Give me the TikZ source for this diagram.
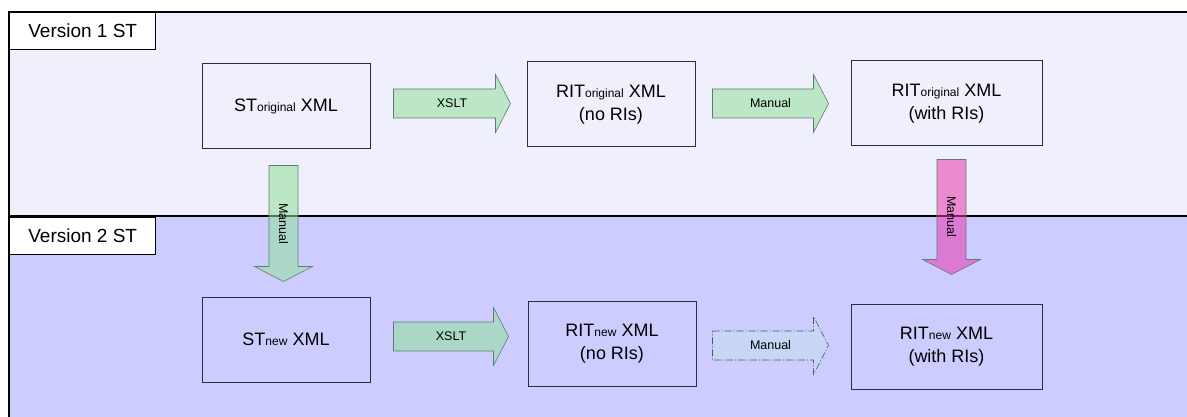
\documentclass[tikz,border=0pt]{standalone}
\usepackage{fontspec}
\setmainfont{Liberation Sans}
\usetikzlibrary{calc}

\definecolor{paneltop}{RGB}{240,240,252}
\definecolor{panelbot}{RGB}{204,204,255}
\definecolor{boxline}{RGB}{45,45,60}
\definecolor{flowgreen}{RGB}{145,225,155}
\definecolor{flowpink}{RGB}{230,55,175}
\definecolor{flowline}{RGB}{100,120,115}
\definecolor{dashline}{RGB}{80,85,110}
\definecolor{dashfill}{RGB}{195,225,235}

% small lowered-size word inside a stage title
\newcommand\smallword[1]{{\fontsize{12}{14}\selectfont #1}}

% block arrow pointing right: style, tail point, length
\newcommand\rightflow[3]{%
  \path[#1] (#2) ++(0,-14.5) -- ++({#3-15},0) -- ++(0,-14.5) -- ++(15,29)
    -- ++(-15,29) -- ++(0,-14.5) -- ++({-(#3-15)},0) -- cycle;}
% block arrow pointing down: style, tail point, length
\newcommand\downflow[3]{%
  \path[#1] (#2) ++(-14.5,0) -- ++(0,{#3-15}) -- ++(-14.5,0) -- ++(29,15)
    -- ++(29,-15) -- ++(-14.5,0) -- ++(0,{-(#3-15)}) -- cycle;}

\tikzset{
  stage/.style={draw=boxline, line width=1pt, minimum width=168pt,
    minimum height=85pt, align=center, inner sep=0pt,
    font=\fontsize{18}{23}\selectfont},
  widestage/.style={stage, minimum width=191pt},
  tag/.style={draw=black, fill=white, line width=1.4pt, anchor=north west,
    minimum width=146pt, minimum height=37pt, inner sep=0pt,
    font=\fontsize{19}{23}\selectfont},
  flowlabel/.style={inner sep=0pt, font=\fontsize{12.5}{15}\selectfont},
  greenflow/.style={draw=flowline, line width=0.6pt, fill=flowgreen, fill opacity=0.55},
  pinkflow/.style={draw=flowline, line width=0.6pt, fill=flowpink, fill opacity=0.55},
  dashflow/.style={draw=dashline, line width=0.6pt, fill=dashfill, fill opacity=0.5,
    dash pattern=on 7pt off 2pt on 1pt off 2pt},
}

\begin{document}
\begin{tikzpicture}[x=1pt, y=-1pt]
\useasboundingbox (0,0) rectangle (1187,417);

% swim lanes
\fill[paneltop] (9,12) rectangle (1200,216);
\fill[panelbot] (9,216) rectangle (1200,430);
\draw[line width=1.5pt] (1200,12) -- (9,12) -- (9,430);
\draw[line width=1.5pt] (9,216) -- (1200,216);
\node[tag] (lane1) at (9,12) {Version 1 ST};
\node[tag] (lane2) at (9,216.5) {Version 2 ST};

% stages
\node[stage] (stO) at (286,106.5) {ST\smallword{original} XML};
\node[stage] (ritO) at (611,104.5) {RIT\smallword{original} XML\\(no RIs)};
\node[widestage] (ritOw) at (946.5,103.5) {RIT\smallword{original} XML\\(with RIs)};
\node[stage] (stN) at (286,339.5) {ST\smallword{new} XML};
\node[stage] (ritN) at (612,344) {RIT\smallword{new} XML\\(no RIs)};
\node[widestage] (ritNw) at (946.5,347) {RIT\smallword{new} XML\\(with RIs)};

% arrow tails
\coordinate (t1) at ($(stO.east)+(23,-3)$);
\coordinate (t2) at ($(ritO.east)+(17,-1)$);
\coordinate (t3) at ($(stO.south)+(-2.5,16)$);
\coordinate (t4) at ($(ritOw.south)+(5,13)$);
\coordinate (t5) at ($(stN.east)+(23,-3)$);
\coordinate (t6) at ($(ritN.east)+(16,1.5)$);

% transformations
\rightflow{greenflow}{t1}{117}
\node[flowlabel] (l1) at ($(t1)+(58.5,0)$) {XSLT};
\rightflow{greenflow}{t2}{116}
\node[flowlabel] (l2) at ($(t2)+(58,0)$) {Manual};
\downflow{greenflow}{t3}{116}
\node[flowlabel, rotate=-90] (l3) at ($(t3)+(0,58)$) {Manual};
\downflow{pinkflow}{t4}{115}
\node[flowlabel, rotate=-90] (l4) at ($(t4)+(0,57.5)$) {Manual};
\rightflow{greenflow}{t5}{115}
\node[flowlabel] (l5) at ($(t5)+(57.5,0)$) {XSLT};
\rightflow{dashflow}{t6}{116}
\node[flowlabel] (l6) at ($(t6)+(58,0)$) {Manual};
\end{tikzpicture}
\end{document}
